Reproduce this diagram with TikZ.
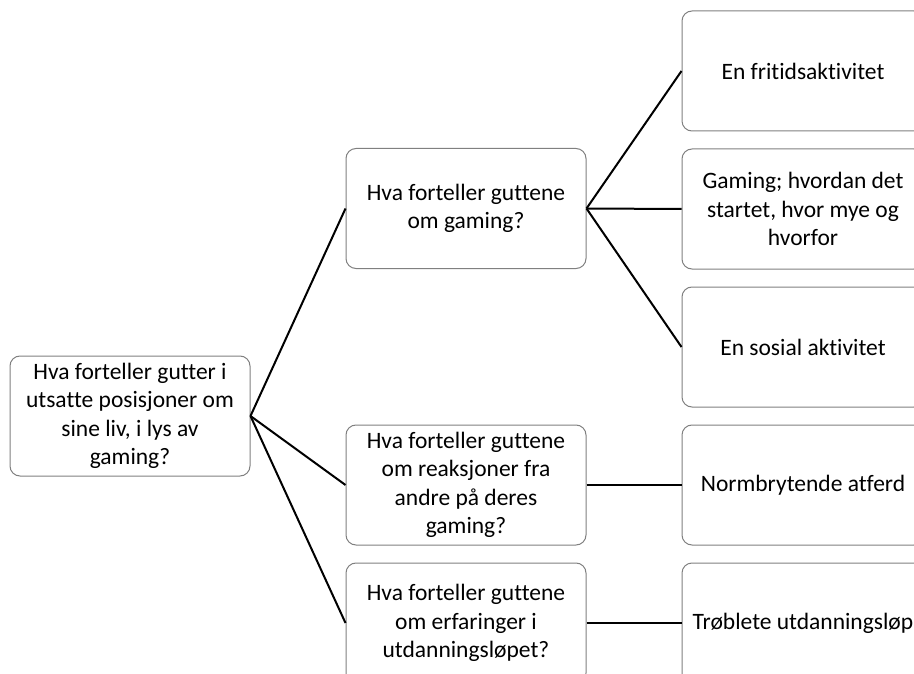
\documentclass[tikz,border=0pt]{standalone}
\usepackage{fontspec}
\setmainfont{Carlito}[Ligatures=CommonOff]
\begin{document}
\begin{tikzpicture}[x=1pt,y=-1pt,
  box/.style={draw=black!50,line width=1pt,rounded corners=10pt,fill=white,
    align=center,inner sep=0pt,minimum height=120pt,font=\fontsize{23.5}{28.5}\selectfont},
  lbox/.style={box,minimum width=240pt},
  rbox/.style={box,minimum width=242pt},
  link/.style={draw=black,line width=2pt}]
\useasboundingbox (0,0) rectangle (914,674);
\clip (0,0) rectangle (914,674);
\node[lbox] (root) at (130,416) {Hva forteller gutter i\\utsatte posisjoner om\\sine liv, i lys av\\gaming?};
\node[lbox] (a) at (466,208.5) {Hva forteller guttene\\om gaming?};
\node[lbox] (b) at (466,485) {Hva forteller guttene\\om reaksjoner fra\\andre på deres\\gaming?};
\node[lbox] (c) at (466,623) {Hva forteller guttene\\om erfaringer i\\utdanningsløpet?};
\node[rbox] (a1) at (803,71) {En fritidsaktivitet};
\node[rbox] (a2) at (803,209) {Gaming; hvordan det\\startet, hvor mye og\\hvorfor};
\node[rbox] (a3) at (803,347) {En sosial aktivitet};
\node[rbox] (b1) at (803,485) {Normbrytende atferd};
\node[rbox] (c1) at (803,623) {Trøblete utdanningsløp};
\draw[link] (root.east) -- (a.west);
\draw[link] (root.east) -- (b.west);
\draw[link] (root.east) -- (c.west);
\draw[link] (a.east) -- (a1.west);
\draw[link] (a.east) -- (a2.west);
\draw[link] (a.east) -- (a3.west);
\draw[link] (b.east) -- (b1.west);
\draw[link] (c.east) -- (c1.west);
\end{tikzpicture}
\end{document}
